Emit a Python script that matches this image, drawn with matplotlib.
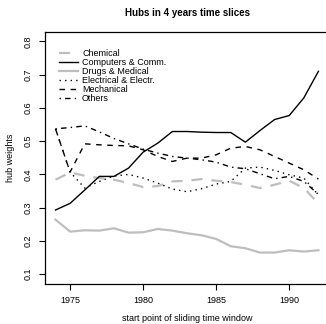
import numpy as np
import matplotlib
matplotlib.use("Agg")
import matplotlib.pyplot as plt

plt.rcParams['font.family'] = ['Liberation Sans', 'DejaVu Sans']

years = list(range(1974, 1993))

chemical = [0.384, 0.406, 0.396, 0.389, 0.384, 0.374, 0.362, 0.365, 0.379, 0.381,
            0.386, 0.381, 0.377, 0.369, 0.359, 0.369, 0.381, 0.359, 0.313]
computers = [0.293, 0.313, 0.353, 0.394, 0.394, 0.419, 0.467, 0.494, 0.529, 0.529,
             0.527, 0.526, 0.526, 0.497, 0.532, 0.565, 0.577, 0.630, 0.710]
drugs = [0.264, 0.228, 0.232, 0.231, 0.238, 0.225, 0.226, 0.236, 0.231, 0.223,
         0.217, 0.206, 0.184, 0.178, 0.165, 0.165, 0.172, 0.168, 0.172]
electrical = [0.537, 0.407, 0.359, 0.379, 0.395, 0.400, 0.389, 0.374, 0.356, 0.348,
              0.357, 0.371, 0.379, 0.419, 0.422, 0.412, 0.399, 0.389, 0.338]
mechanical = [0.537, 0.407, 0.492, 0.489, 0.487, 0.486, 0.474, 0.454, 0.439, 0.449,
              0.449, 0.459, 0.479, 0.484, 0.474, 0.454, 0.434, 0.414, 0.386]
others = [0.537, 0.541, 0.546, 0.528, 0.508, 0.492, 0.476, 0.464, 0.454, 0.449,
          0.444, 0.437, 0.422, 0.417, 0.402, 0.387, 0.394, 0.379, 0.340]

names = ["Chemical", "Computers & Comm.", "Drugs & Medical",
         "Electrical & Electr.", "Mechanical", "Others"]

fig = plt.figure(figsize=(3.26, 3.24), dpi=100)
ax = fig.add_axes([0.138, 0.125, 0.871, 0.776])

grey = "#bebebe"
ax.plot(years, chemical, color=grey, lw=1.6, dashes=(5, 4), label=names[0])
ax.plot(years, computers, color="black", lw=1.0, label=names[1])
ax.plot(years, drugs, color=grey, lw=1.6, label=names[2])
ax.plot(years, electrical, color="black", lw=1.0, dashes=(1, 3), label=names[3])
ax.plot(years, mechanical, color="black", lw=1.0, dashes=(4, 4), label=names[4])
ax.plot(years, others, color="black", lw=1.0, dashes=(1, 3, 4, 3), label=names[5])

ax.set_xlim(1973.28, 1992.72)
ax.set_ylim(0.072, 0.828)
ax.set_xticks([1975, 1980, 1985, 1990])
ax.set_yticks([0.1, 0.2, 0.3, 0.4, 0.5, 0.6, 0.7, 0.8])
ax.tick_params(direction="out", length=4, width=0.8, labelsize=6.5, pad=5)
for lab in ax.get_yticklabels():
    lab.set_rotation(90)
    lab.set_va("center")
for sp in ax.spines.values():
    sp.set_linewidth(0.9)

# titles placed in figure coords, R-style margins
fig.text(0.574, 0.960, "Hubs in 4 years time slices", fontsize=7,
         fontweight="bold", ha="center", va="center")
fig.text(0.574, 0.016, "start point of sliding time window", fontsize=6.5,
         ha="center", va="center")
fig.text(0.031, 0.513, "hub weights", fontsize=6.5, rotation=90,
         ha="center", va="center")

ax.legend(loc="upper left", bbox_to_anchor=(0.035, 0.948), frameon=False,
          fontsize=6.5, handlelength=2.2, handletextpad=0.4,
          labelspacing=0.0, borderaxespad=0)

fig.savefig("out.png", dpi=100)
